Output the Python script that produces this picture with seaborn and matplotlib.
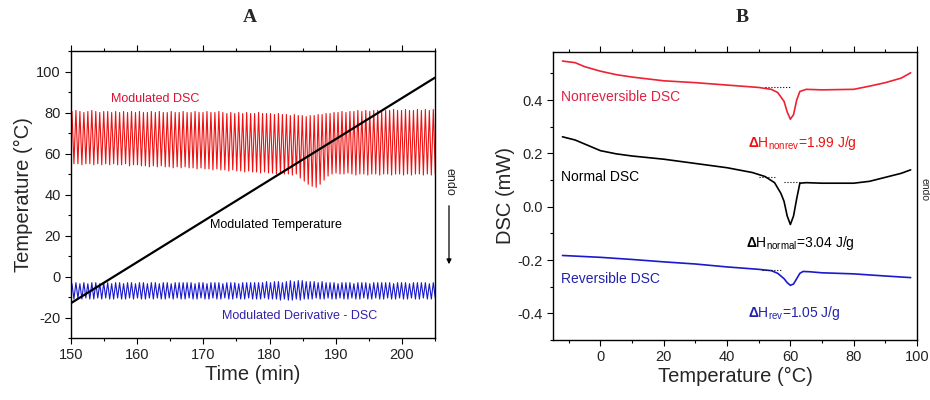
import numpy as np
import pandas as pd
import seaborn as sns
import matplotlib.pyplot as plt
from matplotlib.patches import FancyArrowPatch
from matplotlib.ticker import MultipleLocator

# ---- Panel A: modulated DSC run (time axis) ----
cycle_start = 150.0
cycle_period = 0.6  # min per modulation cycle

# red: modulated DSC, one peak / one trough per cycle (92 cycles)
mdsc_peaks = [80.5, 81, 80.5, 80, 80.5, 81, 80.5, 80, 80.5, 80.5,
              80, 80.5, 80, 80.5, 80, 80.5, 80, 80.5, 80, 80,
              80.5, 80, 80.5, 80, 80, 80.5, 80, 80, 80.5, 80,
              80, 80.5, 80, 80, 80.5, 80, 80, 80.5, 80, 79.5,
              80, 79.5, 80, 79.5, 80, 79.5, 79.5, 80, 79.5, 79.5,
              79.5, 79, 79.5, 79, 79, 78.5, 79, 78.5, 78.5, 78,
              78.5, 78.5, 79, 79, 79.5, 79.5, 80, 80, 80.5, 80,
              80.5, 80.5, 81, 80.5, 81, 80.5, 81, 81, 80.5, 81,
              81, 81.5, 81, 81, 81.5, 81, 81, 81.5, 81, 81.5,
              81, 81.5]
mdsc_troughs = [55, 55, 54.5, 55, 55, 54.5, 55, 54.5, 55, 54.5,
                55, 54.5, 54.5, 55, 54, 54.5, 54.5, 54, 54, 53.5,
                54, 53.5, 54, 53.5, 53.5, 53, 53.5, 53, 53.5, 53,
                53, 52.5, 53, 52.5, 52.5, 52, 52.5, 52, 52, 51.5,
                52, 51.5, 51.5, 51, 51.5, 51, 51, 50.5, 51, 50.5,
                50.5, 50, 50.5, 50, 50, 49.5, 50, 48, 46.5, 45,
                44, 43.5, 45, 47, 49, 50, 50.5, 50, 50, 50.5,
                50, 49.5, 50, 50, 49.5, 50, 50, 49.5, 50, 50,
                49.5, 50, 50, 49.5, 50, 49.5, 50, 50, 49.5, 50,
                49.5, 50]

# blue: modulated derivative
deriv_peaks = [-3.5, -3, -3.5, -3, -3.5, -3, -3, -3.5, -3, -3,
               -3.5, -3, -3, -3.5, -3, -3, -3.5, -3, -3, -3.5,
               -3, -3, -3.5, -3, -3, -3.5, -3, -3, -3, -3,
               -3, -3.5, -3, -3, -3.5, -3, -3, -3, -3.5, -3,
               -3, -3, -3.5, -3, -3, -3, -3, -3, -3, -2.5,
               -3, -2.5, -2.5, -3, -2.5, -2, -2.5, -2, -2, -2.5,
               -2.5, -2.5, -3, -2.5, -3, -3, -3, -3.5, -3, -3,
               -3, -3.5, -3, -3, -3, -3.5, -3, -3, -3, -3,
               -3, -3.5, -3, -3, -3, -3.5, -3, -3, -3, -3,
               -3.5, -3]
deriv_troughs = [-11, -10.5, -11, -10.5, -11, -11, -10.5, -11, -10.5, -11,
                 -11, -10.5, -11, -11, -10.5, -11, -10.5, -11, -11, -10.5,
                 -11, -10.5, -11, -11, -10.5, -11, -10.5, -11, -11, -10.5,
                 -11, -11, -10.5, -11, -11, -10.5, -11, -11, -10.5, -11,
                 -11, -10.5, -11, -11, -10.5, -11, -11, -11, -10.5, -11,
                 -11, -11, -11.5, -11, -11.5, -11.5, -11, -11.5, -11, -11,
                 -11, -10.5, -11, -11, -10.5, -11, -11, -10.5, -11, -11,
                 -10.5, -11, -11, -10.5, -11, -11, -10.5, -11, -11, -10.5,
                 -11, -11, -10.5, -11, -11, -10.5, -11, -11, -10.5, -11,
                 -11, -10.5]

# black: modulated temperature
mt_time = [150, 155, 160, 165, 170, 175, 180, 185, 190, 195, 200, 205]
mt_temp = [-13, -3, 7, 17, 27, 37, 47, 57, 67, 77, 87, 97]

# ---- Panel B: DSC curves vs temperature ----
nonrev_T = [-12, -8, -5, 0, 5, 10, 20, 30, 40, 50, 54, 56, 58, 59, 60, 61,
            62, 63, 65, 70, 80, 85, 90, 95, 98]
nonrev_V = [0.546, 0.54, 0.525, 0.508, 0.495, 0.486, 0.472, 0.465, 0.456,
            0.447, 0.44, 0.428, 0.395, 0.355, 0.328, 0.345, 0.40, 0.432,
            0.44, 0.438, 0.44, 0.452, 0.465, 0.482, 0.502]

normal_T = [-12, -8, -5, 0, 5, 10, 20, 30, 40, 48, 52, 55, 57, 58, 59, 60,
            61, 62, 63, 65, 70, 80, 85, 90, 95, 98]
normal_V = [0.262, 0.25, 0.235, 0.21, 0.198, 0.19, 0.178, 0.162, 0.146,
            0.128, 0.113, 0.09, 0.05, 0.02, -0.035, -0.067, -0.035, 0.03,
            0.088, 0.09, 0.088, 0.088, 0.095, 0.11, 0.125, 0.138]

rev_T = [-12, 0, 10, 20, 30, 40, 50, 54, 56, 58, 59, 60, 61, 62, 63, 64,
         66, 70, 80, 90, 98]
rev_V = [-0.183, -0.19, -0.198, -0.207, -0.215, -0.226, -0.235, -0.24,
         -0.25, -0.27, -0.285, -0.295, -0.29, -0.27, -0.25, -0.243, -0.244,
         -0.248, -0.252, -0.26, -0.266]

# dotted baselines under the peaks
base_nonrev_T, base_nonrev_V = [52, 60], [0.448, 0.448]
base_normal1_T, base_normal1_V = [50, 55], [0.113, 0.113]
base_normal2_T, base_normal2_V = [58, 63.5], [0.094, 0.094]
base_rev_T, base_rev_V = [51, 57], [-0.236, -0.236]


def zigzag(peaks, troughs):
    t, y = [], []
    for k, (p, q) in enumerate(zip(peaks, troughs)):
        t += [cycle_start + k * cycle_period + 0.25 * cycle_period,
              cycle_start + k * cycle_period + 0.75 * cycle_period]
        y += [p, q]
    return pd.DataFrame({'t': t, 'y': y})


sns.set_style("ticks")
plt.rcParams['font.family'] = ['Liberation Sans', 'DejaVu Sans']
plt.rcParams['axes.unicode_minus'] = False
plt.rcParams['mathtext.fontset'] = 'custom'
plt.rcParams['mathtext.rm'] = 'Liberation Sans'
plt.rcParams['mathtext.bf'] = 'Liberation Sans:bold'

fig = plt.figure(figsize=(9.3, 4.0), dpi=100)
axA = fig.add_axes([0.0763, 0.155, 0.3914, 0.7175])
axB = fig.add_axes([0.5946, 0.150, 0.3914, 0.720])

# ---------- Panel A ----------
red_df = zigzag(mdsc_peaks, mdsc_troughs)
blue_df = zigzag(deriv_peaks, deriv_troughs)
mt_df = pd.DataFrame({'t': mt_time, 'y': mt_temp})

sns.lineplot(data=red_df, x='t', y='y', ax=axA, color='#ee1111', lw=0.8,
             sort=False, estimator=None)
sns.lineplot(data=blue_df, x='t', y='y', ax=axA, color='#1a1acc', lw=0.8,
             sort=False, estimator=None)
sns.lineplot(data=mt_df, x='t', y='y', ax=axA, color='black', lw=1.6,
             sort=False, estimator=None)

axA.set_xlim(150, 205)
axA.set_ylim(-30, 110)
axA.xaxis.set_major_locator(MultipleLocator(10))
axA.xaxis.set_minor_locator(MultipleLocator(5))
axA.yaxis.set_major_locator(MultipleLocator(20))
axA.yaxis.set_minor_locator(MultipleLocator(10))
axA.set_xlabel('Time (min)', fontsize=14.5, labelpad=2)
axA.set_ylabel('Temperature (°C)', fontsize=14.5, labelpad=2)

axA.text(156, 86.5, 'Modulated DSC', color='#dd1133', fontsize=9,
         va='center', ha='left')
axA.text(171, 25, 'Modulated Temperature', color='black', fontsize=9,
         va='center', ha='left')
axA.text(172.8, -19.5, 'Modulated Derivative - DSC', color='#3322aa',
         fontsize=9, va='center', ha='left')

# ---------- Panel B ----------
for T, V, c in [(nonrev_T, nonrev_V, '#ee2233'),
                (normal_T, normal_V, 'black'),
                (rev_T, rev_V, '#1a1acc')]:
    sns.lineplot(x=T, y=V, ax=axB, color=c, lw=1.2, sort=False,
                 estimator=None)
for T, V in [(base_nonrev_T, base_nonrev_V), (base_normal1_T, base_normal1_V),
             (base_normal2_T, base_normal2_V), (base_rev_T, base_rev_V)]:
    sns.lineplot(x=T, y=V, ax=axB, color='black', lw=0.8, ls=':',
                 sort=False, estimator=None)

axB.set_xlim(-15, 100)
axB.set_ylim(-0.5, 0.58)
axB.xaxis.set_major_locator(MultipleLocator(20))
axB.xaxis.set_minor_locator(MultipleLocator(10))
axB.yaxis.set_major_locator(MultipleLocator(0.2))
axB.yaxis.set_minor_locator(MultipleLocator(0.1))
axB.set_yticks([-0.4, -0.2, 0.0, 0.2, 0.4])
axB.set_yticklabels(['-0.4', '-0.2', '0.0', '0.2', '0.4'])
axB.set_xlabel('Temperature (°C)', fontsize=14.5, labelpad=2)
axB.set_ylabel('DSC (mW)', fontsize=14.5, labelpad=2)

axB.text(-12.5, 0.41, 'Nonreversible DSC', color='#dd2244', fontsize=10,
         va='center', ha='left')
axB.text(-12.5, 0.11, 'Normal DSC', color='black', fontsize=10,
         va='center', ha='left')
axB.text(-12.5, -0.27, 'Reversible DSC', color='#2222aa', fontsize=10,
         va='center', ha='left')
axB.text(46.5, 0.24, r'$\mathbf{\Delta}$H$_{\mathrm{nonrev}}$=1.99 J/g',
         color='#ee1111', fontsize=10, va='center', ha='left')
axB.text(46, -0.135, r'$\mathbf{\Delta}$H$_{\mathrm{normal}}$=3.04 J/g',
         color='black', fontsize=10, va='center', ha='left')
axB.text(46.5, -0.40, r'$\mathbf{\Delta}$H$_{\mathrm{rev}}$=1.05 J/g',
         color='#2222aa', fontsize=10, va='center', ha='left')

for ax in (axA, axB):
    for s in ax.spines.values():
        s.set_linewidth(1.0)
        s.set_color('black')
    ax.tick_params(which='both', direction='out', labelsize=10.5,
                   colors='black', labelcolor='#222222')
    ax.tick_params(which='major', length=4, width=0.8)
    ax.tick_params(which='minor', length=2.5, width=0.8)
    ax.tick_params(axis='x', which='both', top=True)

# panel titles
fig.text(250 / 930, 1 - 18 / 400, 'A', fontsize=14, fontweight='bold',
         family='Liberation Serif', ha='center', va='center')
fig.text(742 / 930, 1 - 18 / 400, 'B', fontsize=14, fontweight='bold',
         family='Liberation Serif', ha='center', va='center')

# endo markers
fig.text(449 / 930, 1 - 182 / 400, 'endo', rotation=270, fontsize=9,
         ha='center', va='center')
fig.patches.append(FancyArrowPatch(
    (449 / 930, 1 - 203 / 400), (449 / 930, 1 - 267 / 400),
    transform=fig.transFigure, arrowstyle='-|>', mutation_scale=7,
    lw=0.9, color='black'))
fig.text(924 / 930, 1 - 190 / 400, 'endo', rotation=270, fontsize=7.5,
         ha='center', va='center')

fig.savefig('out.png', dpi=100)
